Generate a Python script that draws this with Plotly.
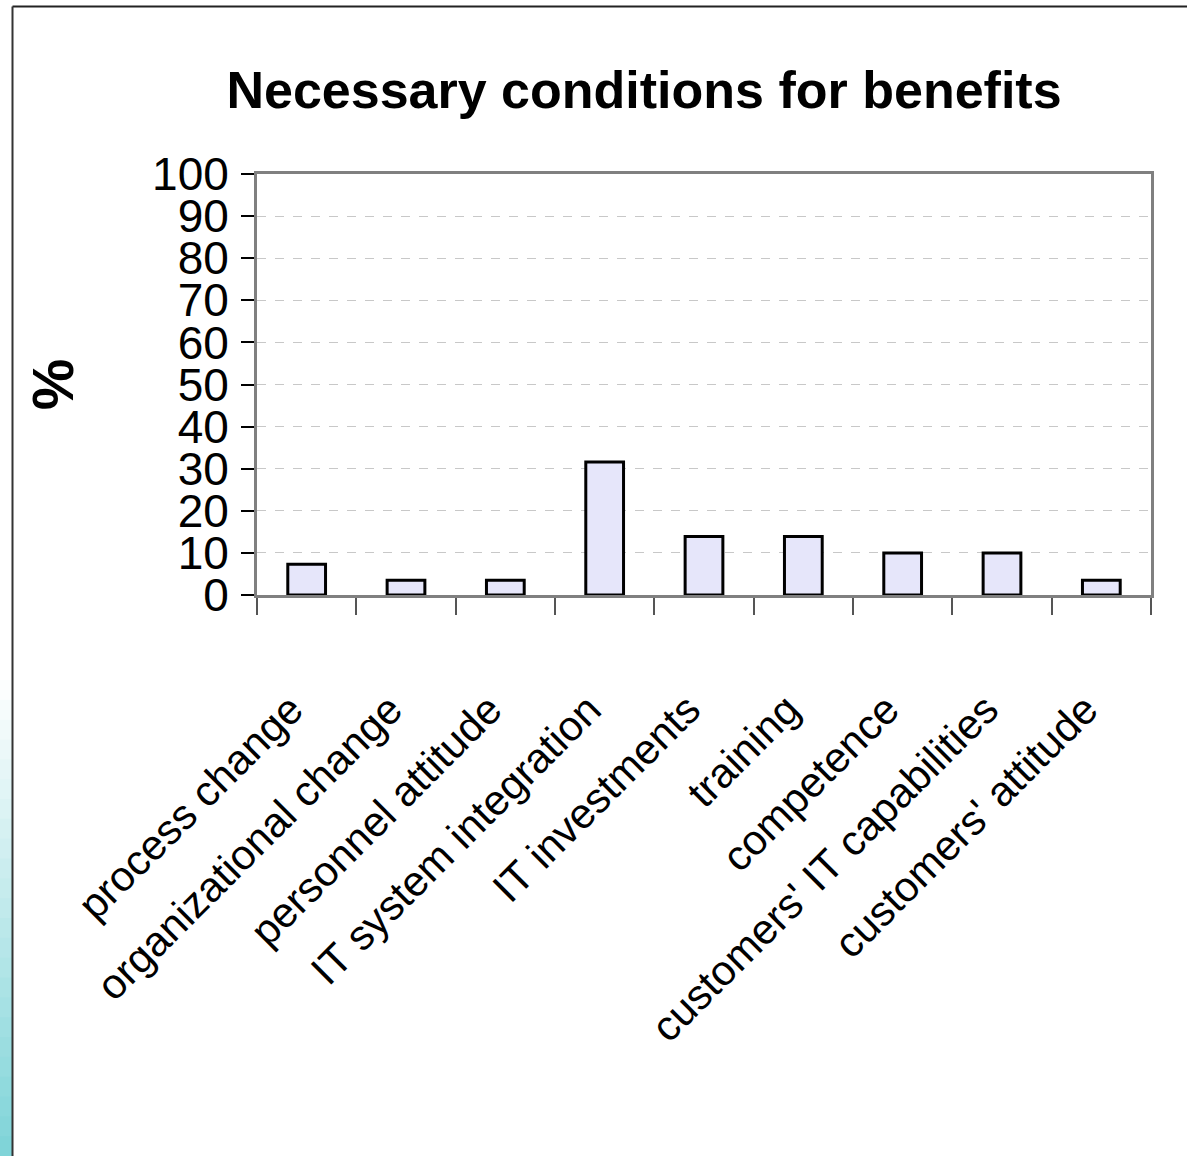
import plotly.graph_objects as go

categories = [
    "process change",
    "organizational change",
    "personnel attitude",
    "IT system integration",
    "IT investments",
    "training",
    "competence",
    "customers' IT capabilities",
    "customers' attitude",
]
values = [7.3, 3.5, 3.5, 31.6, 13.9, 13.9, 10.0, 10.0, 3.5]
y_ticks = [0, 10, 20, 30, 40, 50, 60, 70, 80, 90, 100]
title_text = "Necessary conditions for benefits"
y_title = "%"

W, H = 1187, 1156
PL, PT, PR, PB = 257, 174, 1151, 595  # plot area in pixels
PW, PH = PR - PL, PB - PT
FONT = "Liberation Sans, Arial, sans-serif"


def px_x(x):
    return (x - PL) / PW


def px_y(y):
    return (PB - y) / PH


fig = go.Figure()
fig.add_trace(go.Bar(
    x=categories,
    y=values,
    marker=dict(color="#e6e6fa", line=dict(color="black", width=3)),
    hoverinfo="x+y",
))

# left decorative gradient strip
shapes = []
y_start, y_end = 680, H
n = 24
c0 = (255, 255, 255)
c1 = (126, 212, 216)
for i in range(n):
    t = (i + 0.5) / n
    r = int(c0[0] + (c1[0] - c0[0]) * t)
    g = int(c0[1] + (c1[1] - c0[1]) * t)
    b = int(c0[2] + (c1[2] - c0[2]) * t)
    ya = y_start + (y_end - y_start) * i / n
    yb = y_start + (y_end - y_start) * (i + 1) / n + 1
    shapes.append(dict(type="rect", xref="paper", yref="paper",
                       x0=px_x(0), x1=px_x(12),
                       y0=px_y(yb), y1=px_y(ya),
                       fillcolor=f"rgb({r},{g},{b})", line=dict(width=0), layer="below"))
# page border (top and left)
shapes.append(dict(type="line", xref="paper", yref="paper",
                   x0=px_x(12.5), x1=px_x(W),
                   y0=px_y(6.5), y1=px_y(6.5),
                   line=dict(color="#222", width=2)))
shapes.append(dict(type="line", xref="paper", yref="paper",
                   x0=px_x(12.5), x1=px_x(12.5),
                   y0=px_y(6.5), y1=px_y(H),
                   line=dict(color="#333", width=2)))

fig.update_layout(
    width=W, height=H,
    margin=dict(l=PL, r=W - PR, t=PT, b=H - PB, autoexpand=False),
    paper_bgcolor="white", plot_bgcolor="white",
    bargap=0.62,
    showlegend=False,
    font=dict(family=FONT, color="black"),
    title=dict(text=title_text, font=dict(family=FONT, size=52, weight="bold", color="black"),
               x=644 / W, xref="container", xanchor="center",
               y=1 - 90 / H, yref="container", yanchor="middle"),
    shapes=shapes,
)
fig.update_xaxes(
    type="category",
    tickangle=-45,
    tickfont=dict(family=FONT, size=42, color="black"),
    ticks="outside", tickson="boundaries", ticklen=17, tickwidth=2, tickcolor="#555",
    ticklabelstandoff=70, ticklabelshift=-16,
    showline=True, linecolor="#808080", linewidth=3, mirror=True,
    showgrid=False,
)
fig.update_yaxes(
    range=[0, 100],
    tickvals=y_ticks,
    tickfont=dict(family=FONT, size=46, color="black"),
    ticks="outside", ticklen=13, tickwidth=2, tickcolor="black",
    ticklabelstandoff=3,
    showline=True, linecolor="#808080", linewidth=3, mirror=True,
    showgrid=True, gridcolor="#c8c8c8", gridwidth=1, griddash="dash",
    zeroline=False,
    title=dict(text=y_title, font=dict(family=FONT, size=58, weight="bold", color="black"), standoff=60),
)

fig.write_html("out.html", config={"displayModeBar": False},
               post_script="document.body.style.margin='0';")
